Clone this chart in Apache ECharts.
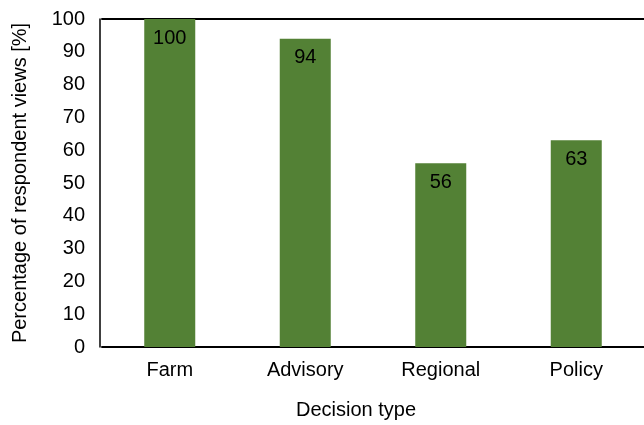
<!DOCTYPE html>
<html><head><meta charset="utf-8">
<script src="https://cdn.jsdelivr.net/npm/echarts@6/dist/echarts.min.js"></script>
<style>html,body{margin:0;padding:0;background:#fff}#c{width:644px;height:425px}</style>
</head><body><div id="c"></div>
<script>
var categories = ['Farm', 'Advisory', 'Regional', 'Policy'];
var values = [100, 94, 56, 63];
var yTicks = [0, 10, 20, 30, 40, 50, 60, 70, 80, 90, 100];

var chart = echarts.init(document.getElementById('c'));
var font = 'Liberation Sans, Arial, sans-serif';
chart.setOption({
  animation: false,
  grid: { left: 102, right: -3, top: 19, bottom: 73 },
  xAxis: [{
    type: 'category', data: categories,
    axisLine: { lineStyle: { color: '#000', width: 2 } },
    axisTick: { show: false },
    axisLabel: { color: '#000', fontSize: 20, fontFamily: font, margin: 13 },
    name: 'Decision type', nameLocation: 'middle', nameGap: 53,
    nameTextStyle: { color: '#000', fontSize: 20, fontFamily: font, padding: [0, 34, 0, 0] }
  }, {
    type: 'category', data: categories, position: 'top',
    axisLine: { show: true, lineStyle: { color: '#000', width: 2 } },
    axisTick: { show: false }, axisLabel: { show: false }
  }],
  yAxis: {
    type: 'value', min: 0, max: 100, interval: 10, offset: 2,
    axisLine: { show: true, lineStyle: { color: '#000', width: 1.5 } },
    axisTick: { show: false },
    splitLine: { show: false },
    axisLabel: {
      color: '#000', fontSize: 20, fontFamily: font, margin: 15,
      formatter: function (v) { return yTicks.indexOf(v) >= 0 ? String(v) : ''; }
    },
    name: 'Percentage of respondent views [%]', nameLocation: 'middle', nameGap: 70,
    nameTextStyle: { color: '#000', fontSize: 20, fontFamily: font }
  },
  series: [{
    type: 'bar', data: values, barWidth: 51,
    itemStyle: { color: '#538135' },
    label: { show: true, position: 'insideTop', distance: 9, color: '#000', fontSize: 20, fontFamily: font }
  }]
});
</script></body></html>
